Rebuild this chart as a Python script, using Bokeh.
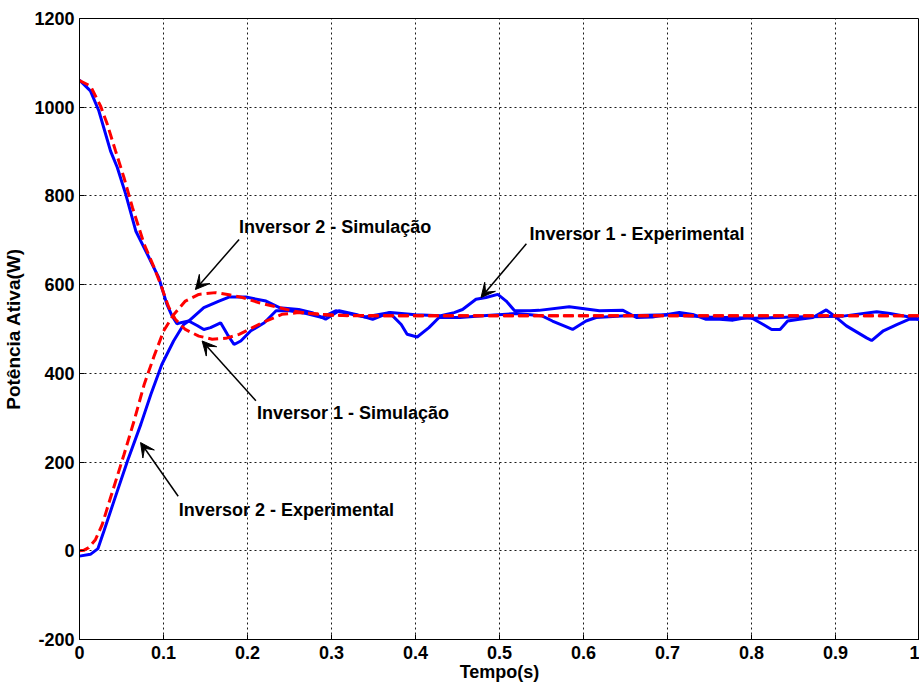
from bokeh.plotting import figure
from bokeh.models import FixedTicker, Arrow, VeeHead, Label
from bokeh.embed import file_html
from bokeh.resources import INLINE

# ---- data ----
# Inversor 1 - Experimental (blue, falling)
t_inv1_exp = [0, 0.013, 0.023, 0.037, 0.045, 0.055, 0.067, 0.083, 0.0945, 0.104, 0.110, 0.116,
              0.122, 0.130, 0.140, 0.148, 0.156, 0.168, 0.176, 0.184, 0.192, 0.204, 0.220, 0.234,
              0.250, 0.270, 0.289, 0.305, 0.320, 0.340, 0.370, 0.400, 0.430, 0.446, 0.456, 0.472,
              0.484, 0.498, 0.508, 0.518, 0.536, 0.547, 0.583, 0.619, 0.647, 0.663, 0.682, 0.714,
              0.730, 0.746, 0.762, 0.778, 0.798, 0.814, 0.824, 0.834, 0.843, 0.857, 0.873, 0.889,
              0.899, 0.913, 0.937, 0.943, 0.957, 0.973, 0.988, 1.0]
p_inv1_exp = [1061, 1037, 992, 901, 864, 804, 721, 660, 615, 556, 530, 512,
              515, 518, 508, 499, 503, 514, 488, 465, 473, 496, 514, 541,
              541, 535, 526, 541, 535, 527, 537, 532, 530, 537, 544, 567,
              571, 578, 563, 541, 541, 542, 550, 541, 542, 526, 527, 537,
              533, 522, 522, 520, 527, 510, 499, 499, 518, 522, 526, 543,
              529, 507, 480, 474, 496, 510, 522, 522]

# Inversor 2 - Experimental (blue, rising)
t_inv2_exp = [0, 0.013, 0.022, 0.029, 0.041, 0.057, 0.073, 0.085, 0.098, 0.112, 0.124, 0.130,
              0.148, 0.166, 0.178, 0.198, 0.222, 0.238, 0.261, 0.277, 0.293, 0.309, 0.329, 0.349,
              0.369, 0.383, 0.390, 0.402, 0.416, 0.428, 0.453, 0.480, 0.520, 0.550, 0.563, 0.587,
              0.603, 0.615, 0.650, 0.700, 0.750, 0.800, 0.850, 0.909, 0.949, 0.965, 0.988, 1.0]
p_inv2_exp = [-12, -8, 5, 44, 112, 202, 285, 353, 420, 473, 510, 518,
              548, 563, 572, 572, 563, 548, 544, 537, 522, 541, 533, 522,
              537, 510, 488, 482, 503, 526, 526, 530, 535, 530, 518, 499,
              518, 526, 530, 532, 527, 524, 527, 529, 539, 535, 527, 522]

# Inversor 1 - Simulacao (red dashed, falling)
t_inv1_sim = [0, 0.013, 0.025, 0.033, 0.043, 0.053, 0.063, 0.077, 0.089, 0.098, 0.106, 0.114,
              0.126, 0.142, 0.158, 0.174, 0.190, 0.206, 0.222, 0.241, 0.261, 0.289, 0.320, 0.400,
              0.500, 0.600, 0.700, 0.800, 0.900, 1.0]
p_inv1_sim = [1060, 1048, 1003, 962, 901, 841, 774, 691, 638, 593, 550, 522,
              499, 484, 477, 479, 488, 503, 518, 533, 537, 533, 530, 530,
              530, 530, 530, 530, 530, 530]

# Inversor 2 - Simulacao (red dashed, rising)
t_inv2_sim = [0, 0.005, 0.011, 0.019, 0.027, 0.037, 0.053, 0.065, 0.077, 0.089, 0.100, 0.112,
              0.126, 0.142, 0.162, 0.178, 0.194, 0.214, 0.234, 0.253, 0.273, 0.300, 0.350, 0.400,
              0.500, 0.600, 0.700, 0.800, 0.900, 1.0]
p_inv2_sim = [0, 1, 7, 25, 59, 120, 217, 293, 375, 440, 495, 532,
              563, 578, 582, 577, 571, 559, 550, 541, 535, 531, 530, 530,
              530, 530, 530, 530, 530, 530]

x_ticks = [0, 0.1, 0.2, 0.3, 0.4, 0.5, 0.6, 0.7, 0.8, 0.9, 1.0]
x_tick_labels = ["0", "0.1", "0.2", "0.3", "0.4", "0.5", "0.6", "0.7", "0.8", "0.9", "1"]
y_ticks = [-200, 0, 200, 400, 600, 800, 1000, 1200]
y_tick_labels = ["-200", "0", "200", "400", "600", "800", "1000", "1200"]

FONT = "Liberation Sans"

p = figure(width=919, height=684, x_range=(0, 1), y_range=(-200, 1200),
           output_backend="svg", toolbar_location=None,
           min_border_left=78, min_border_right=0, min_border_top=18, min_border_bottom=44)

p.background_fill_color = "white"
p.border_fill_color = "white"
p.outline_line_color = "black"
p.outline_line_width = 1

# axes
for ax in (p.xaxis[0], p.yaxis[0]):
    ax.axis_line_color = "black"
    ax.major_tick_in = 5
    ax.major_tick_out = 0
    ax.minor_tick_line_color = None
    ax.major_tick_line_color = "black"
    ax.major_label_text_font = FONT
    ax.major_label_text_font_style = "bold"
    ax.major_label_text_font_size = "18px"
    ax.major_label_text_color = "black"
    ax.axis_label_text_font = FONT
    ax.axis_label_text_font_style = "bold"
    ax.axis_label_text_font_size = "18px"
    ax.axis_label_text_color = "black"

p.yaxis.axis_label_text_font_size = "19px"
p.xaxis.ticker = FixedTicker(ticks=x_ticks)
p.yaxis.ticker = FixedTicker(ticks=y_ticks)
p.xaxis.major_label_overrides = {t: l for t, l in zip(x_ticks, x_tick_labels)}
p.yaxis.major_label_overrides = {t: l for t, l in zip(y_ticks, y_tick_labels)}
p.xaxis.axis_label = "Tempo(s)"
p.yaxis.axis_label = "Potência Ativa(W)"
p.xaxis.major_label_standoff = 6
p.xaxis.axis_label_standoff = 0
p.yaxis.major_label_standoff = 5
p.yaxis.axis_label_standoff = 7

# grid
for g in (p.xgrid[0], p.ygrid[0]):
    g.grid_line_color = "black"
    g.grid_line_dash = "2 3"
    g.grid_line_width = 1
    g.grid_line_alpha = 0.9
p.xgrid.ticker = FixedTicker(ticks=x_ticks)
p.ygrid.ticker = FixedTicker(ticks=y_ticks)

# curves
p.line(t_inv1_exp, p_inv1_exp, line_color="#0000FF", line_width=3)
p.line(t_inv2_exp, p_inv2_exp, line_color="#0000FF", line_width=3)
p.line(t_inv1_sim, p_inv1_sim, line_color="#FF0000", line_width=3, line_dash="10 5")
p.line(t_inv2_sim, p_inv2_sim, line_color="#FF0000", line_width=3, line_dash="10 5")

# annotations
def note(text, tx, ty, xs, ys, xe, ye):
    p.add_layout(Label(x=tx, y=ty, text=text, text_font=FONT, text_font_style="bold",
                       text_font_size="18px", text_color="black", text_baseline="middle",
                       text_align="left"))
    p.add_layout(Arrow(end=VeeHead(size=14, fill_color="black", line_color="black", line_width=1),
                       x_start=xs, y_start=ys, x_end=xe, y_end=ye,
                       line_color="black", line_width=1.5))

note("Inversor 2 - Simulação", 0.190, 729, 0.190, 702, 0.138, 589)
note("Inversor 1 - Experimental", 0.5356, 715, 0.532, 692, 0.478, 571)
note("Inversor 1 - Simulação", 0.2113, 311, 0.210, 338, 0.146, 473)
note("Inversor 2 - Experimental", 0.1183, 93, 0.1175, 123, 0.0727, 244)

open("out.html", "w").write(file_html(p, INLINE))
